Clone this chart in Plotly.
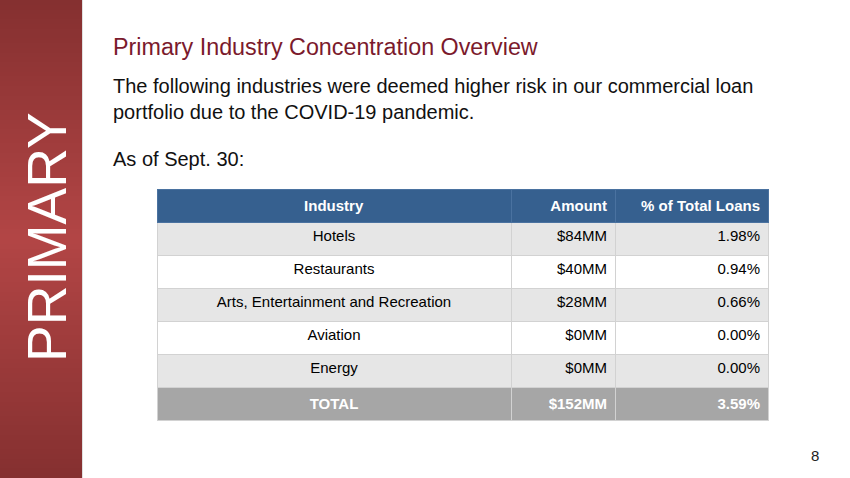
import plotly.graph_objects as go
import numpy as np

W, H = 850, 478

industries = ["Hotels", "Restaurants", "Arts, Entertainment and Recreation", "Aviation", "Energy", "TOTAL"]
amounts = ["$84MM", "$40MM", "$28MM", "$0MM", "$0MM", "$152MM"]
pct_total = ["1.98%", "0.94%", "0.66%", "0.00%", "0.00%", "3.59%"]
headers = ["Industry", "Amount", "% of Total Loans"]

title = "Primary Industry Concentration Overview"
body = "The following industries were deemed higher risk in our commercial loan<br>portfolio due to the COVID-19 pandemic."
asof = "As of Sept. 30:"
side_label = "PRIMARY"
page_no = "8"

FONT = "Liberation Sans, Arial, sans-serif"

def px(x):
    return x / W

def py(y):
    return 1 - y / H

row_fill = ["#E6E6E6", "#FFFFFF", "#E6E6E6", "#FFFFFF", "#E6E6E6", "#A6A6A6"]
row_font = ["#000000"] * 5 + ["#FFFFFF"]

def fmt(vals):
    return [v if i < len(vals) - 1 else "<b>" + v + "</b>" for i, v in enumerate(vals)]

fig = go.Figure()

# gradient band via heatmap
grad = np.concatenate([np.linspace(0, 1, 50), np.linspace(1, 0, 50)])
fig.add_trace(go.Heatmap(
    z=grad.reshape(-1, 1), x=[0], y=np.arange(len(grad)),
    colorscale=[[0, "#853030"], [1, "#B24545"]], showscale=False,
    hoverinfo="skip", xaxis="x", yaxis="y"))

fig.add_trace(go.Table(
    domain=dict(x=[px(157), px(768)], y=[0.0, py(189)]),
    columnwidth=[354, 104, 153],
    header=dict(
        values=["<b>" + h + "</b>" for h in headers],
        fill_color="#36608F",
        font=dict(family=FONT, size=15, color="white"),
        align=["center", "right", "right"],
        line=dict(color="#4A72A0", width=1),
        height=29,
    ),
    cells=dict(
        values=[fmt(industries), fmt(amounts), fmt(pct_total)],
        fill_color=[row_fill] * 3,
        font=dict(family=FONT, size=15, color=[row_font] * 3),
        align=["center", "right", "right"],
        line=dict(color="#D2D2D2", width=1),
        height=33,
    ),
))

annotations = [
    dict(text=title, x=px(111), y=py(47), xanchor="left", yanchor="middle",
         font=dict(family=FONT, size=23.3, color="#7B1A2C")),
    dict(text=body, x=px(111), y=py(99), xanchor="left", yanchor="middle", align="left",
         font=dict(family=FONT, size=20, color="#111111")),
    dict(text=asof, x=px(111), y=py(159), xanchor="left", yanchor="middle",
         font=dict(family=FONT, size=20, color="#111111")),
    dict(text=side_label, x=px(47), y=py(237), xanchor="center", yanchor="middle", textangle=-90,
         font=dict(family=FONT, size=55, color="white")),
    dict(text=page_no, x=px(815), y=py(455), xanchor="center", yanchor="middle",
         font=dict(family=FONT, size=15, color="#222222")),
]
for a in annotations:
    a.update(xref="paper", yref="paper", showarrow=False)

fig.update_layout(
    width=W, height=H,
    margin=dict(l=0, r=0, t=0, b=0),
    paper_bgcolor="white", plot_bgcolor="white",
    xaxis=dict(domain=[0, px(82)], visible=False, fixedrange=True),
    yaxis=dict(domain=[0, 1], visible=False, fixedrange=True, autorange="reversed"),
    annotations=annotations,
    shapes=[dict(type="line", xref="paper", yref="paper", x0=px(82.5), x1=px(82.5), y0=0, y1=1,
                 line=dict(color="rgba(0,0,0,0.12)", width=1))],
    showlegend=False,
)

fig.write_html("out.html", config={"displayModeBar": False},
               post_script="document.body.style.margin='0';")
